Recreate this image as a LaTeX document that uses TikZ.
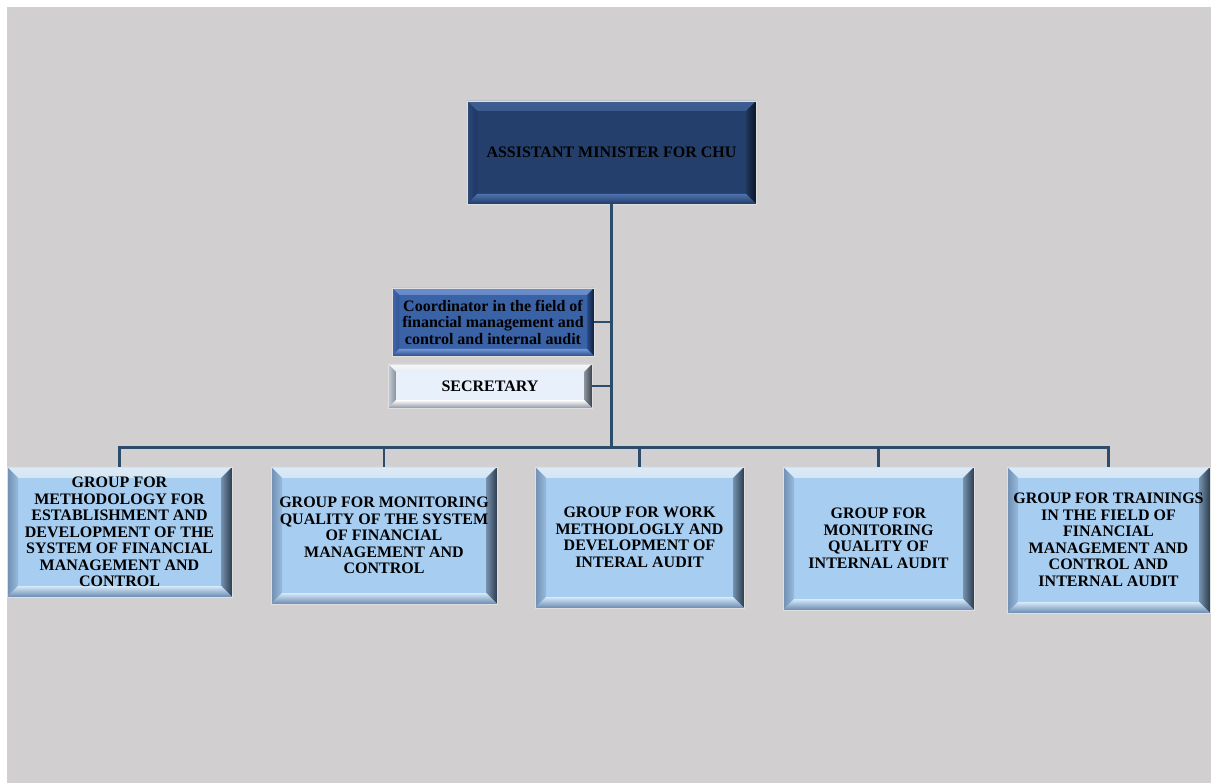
\documentclass[tikz,border=0pt]{standalone}
\usepackage{fontspec}
\setmainfont{Liberation Serif}
\definecolor{bg}{RGB}{209,207,208}
\definecolor{connc}{RGB}{44,76,108}
% navy
\definecolor{nvbase}{RGB}{36,63,107}
\definecolor{nvtopo}{RGB}{62,94,146}
\definecolor{nvtopi}{RGB}{30,52,94}
\definecolor{nvlefto}{RGB}{44,74,122}
\definecolor{nvlefti}{RGB}{30,54,98}
\definecolor{nvrighti}{RGB}{32,54,92}
\definecolor{nvrighto}{RGB}{12,22,38}
\definecolor{nvboti}{RGB}{78,114,176}
\definecolor{nvboto}{RGB}{32,58,100}
% coordinator blue
\definecolor{cobase}{RGB}{58,98,166}
\definecolor{cotopo}{RGB}{108,142,204}
\definecolor{cotopi}{RGB}{50,86,152}
\definecolor{colefto}{RGB}{68,104,170}
\definecolor{colefti}{RGB}{48,84,152}
\definecolor{corighti}{RGB}{42,76,136}
\definecolor{corighto}{RGB}{16,30,58}
\definecolor{coboti}{RGB}{112,150,214}
\definecolor{coboto}{RGB}{44,76,136}
% secretary
\definecolor{sebase}{RGB}{232,240,252}
\definecolor{setopo}{RGB}{246,248,252}
\definecolor{setopi}{RGB}{170,178,190}
\definecolor{selefto}{RGB}{200,206,214}
\definecolor{selefti}{RGB}{136,144,156}
\definecolor{serighti}{RGB}{140,148,160}
\definecolor{serighto}{RGB}{60,66,72}
\definecolor{seboti}{RGB}{255,255,255}
\definecolor{seboto}{RGB}{144,152,164}
% groups
\definecolor{grbase}{RGB}{167,205,241}
\definecolor{grtopo}{RGB}{220,234,246}
\definecolor{grtopi}{RGB}{132,170,208}
\definecolor{grlefto}{RGB}{112,142,176}
\definecolor{grlefti}{RGB}{150,186,222}
\definecolor{grrighti}{RGB}{118,146,176}
\definecolor{grrighto}{RGB}{44,60,78}
\definecolor{grboti}{RGB}{214,234,250}
\definecolor{grboto}{RGB}{106,138,176}
% #1 width, #2/#3 top outer/inner, #4/#5 left outer/inner, #6/#7 right inner/outer, #8/#9 bottom inner/outer
\newcommand\mybevel[9]{%
 \shade[top color=#2, bottom color=#3] (path picture bounding box.north west) -- (path picture bounding box.north east)
   -- ([shift={(-#1,-#1)}]path picture bounding box.north east) -- ([shift={(#1,-#1)}]path picture bounding box.north west) -- cycle;
 \shade[left color=#4, right color=#5] (path picture bounding box.north west) -- (path picture bounding box.south west)
   -- ([shift={(#1,#1)}]path picture bounding box.south west) -- ([shift={(#1,-#1)}]path picture bounding box.north west) -- cycle;
 \shade[left color=#6, right color=#7] (path picture bounding box.north east) -- (path picture bounding box.south east)
   -- ([shift={(-#1,#1)}]path picture bounding box.south east) -- ([shift={(-#1,-#1)}]path picture bounding box.north east) -- cycle;
 \shade[top color=#8, bottom color=#9] (path picture bounding box.south west) -- (path picture bounding box.south east)
   -- ([shift={(-#1,#1)}]path picture bounding box.south east) -- ([shift={(#1,#1)}]path picture bounding box.south west) -- cycle;
}
\begin{document}
\begin{tikzpicture}[x=1pt,y=-1pt,
  box/.style={draw=white!75!gray, line width=0.8pt, inner sep=0pt, align=center,
    font=\bfseries\fontsize{16}{16.5}\selectfont, text=black},
  navybox/.style={box, fill=nvbase, path picture={\mybevel{10pt}{nvtopo}{nvtopi}{nvlefto}{nvlefti}{nvrighti}{nvrighto}{nvboti}{nvboto}}},
  coordbox/.style={box, fill=cobase, path picture={\mybevel{7pt}{cotopo}{cotopi}{colefto}{colefti}{corighti}{corighto}{coboti}{coboto}}},
  secbox/.style={box, fill=sebase, path picture={\mybevel{8pt}{setopo}{setopi}{selefto}{selefti}{serighti}{serighto}{seboti}{seboto}}},
  grpbox/.style={box, fill=grbase, path picture={\mybevel{11pt}{grtopo}{grtopi}{grlefto}{grlefti}{grrighti}{grrighto}{grboti}{grboto}}},
  conn/.style={line width=2.6pt, draw=connc}
]
\fill[white] (0,0) rectangle (1211,783);
\fill[bg] (7,7) rectangle (1211,783);
\useasboundingbox (0,0) rectangle (1211,783);

\node[navybox, minimum width=289pt, minimum height=103pt] (top) at (611.5,152.5) {ASSISTANT MINISTER FOR CHU};
\node[coordbox, minimum width=202pt, minimum height=68pt] (coord) at (493,322) {Coordinator in the field of\\financial management and\\control and internal audit};
\node[secbox, minimum width=204pt, minimum height=44pt] (sec) at (490,386) {SECRETARY};

\node[grpbox, minimum width=225pt, minimum height=130pt] (g1) at (119.5,532) {GROUP FOR\\METHODOLOGY FOR\\ESTABLISHMENT AND\\DEVELOPMENT OF THE\\SYSTEM OF FINANCIAL\\MANAGEMENT AND\\CONTROL};
\node[grpbox, minimum width=226pt, minimum height=137pt] (g2) at (384,535.5) {GROUP FOR MONITORING\\QUALITY OF THE SYSTEM\\OF FINANCIAL\\MANAGEMENT AND\\CONTROL};
\node[grpbox, minimum width=209pt, minimum height=141pt] (g3) at (639.5,537.5) {GROUP FOR WORK\\METHODLOGLY AND\\DEVELOPMENT OF\\INTERAL AUDIT};
\node[grpbox, minimum width=191pt, minimum height=143pt] (g4) at (878.5,538.5) {GROUP FOR\\MONITORING\\QUALITY OF\\INTERNAL AUDIT};
\node[grpbox, minimum width=203pt, minimum height=146pt] (g5) at (1108.5,540) {GROUP FOR TRAININGS\\IN THE FIELD OF\\FINANCIAL\\MANAGEMENT AND\\CONTROL AND\\INTERNAL AUDIT};

\coordinate (hub) at (611.5,447.5);
\draw[conn] (top.south) -- (hub);
\draw[conn] (coord.east) -- (coord.east -| top.south);
\draw[conn] (sec.east) -- (sec.east -| top.south);
\draw[conn] (g1.north) -- (g1.north |- hub) -- (g5.north |- hub) -- (g5.north);
\draw[conn] (g2.north) -- (g2.north |- hub);
\draw[conn] (g3.north) -- (g3.north |- hub);
\draw[conn] (g4.north) -- (g4.north |- hub);
\end{tikzpicture}
\end{document}
